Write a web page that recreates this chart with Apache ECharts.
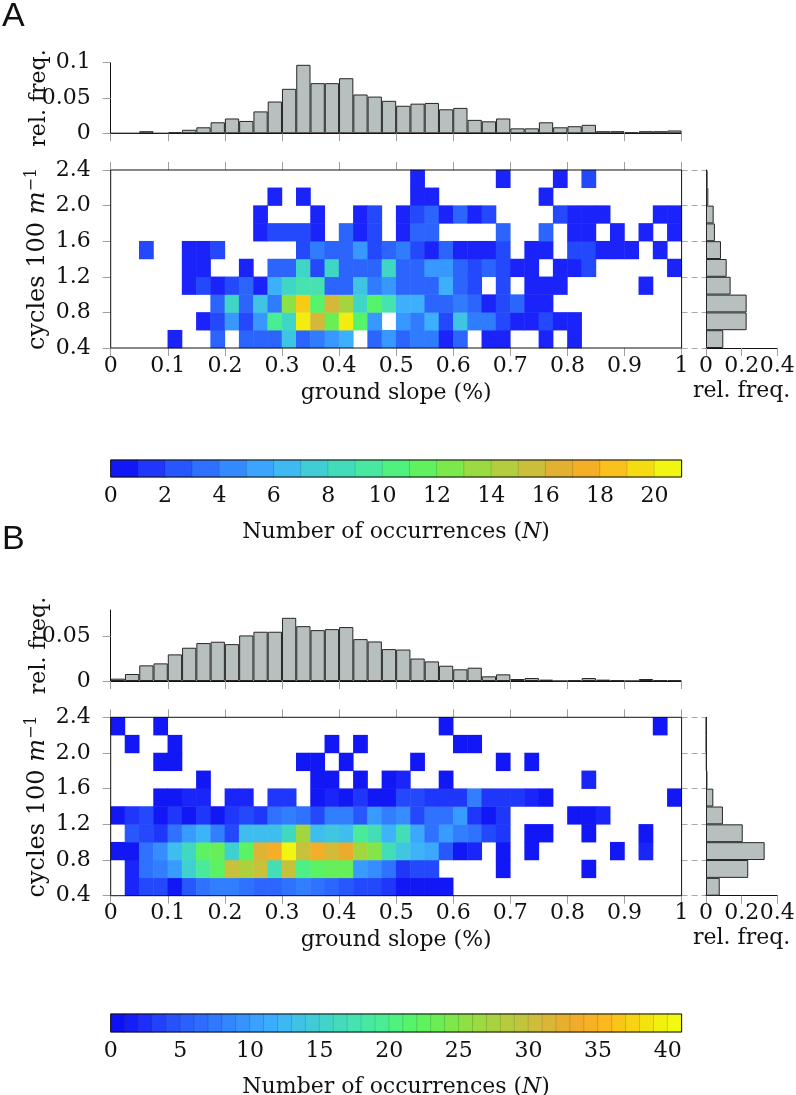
<!DOCTYPE html>
<html><head><meta charset="utf-8">
<script src="https://cdn.jsdelivr.net/npm/echarts@6/dist/echarts.min.js"></script>
<style>html,body{margin:0;padding:0;background:#fff}#c{width:796px;height:1095px}</style>
</head><body><div id="c"></div>
<script>
// ---------- categories ----------
const slopeBinStart = [0.000,0.025,0.050,0.075,0.100,0.125,0.150,0.175,0.200,0.225,0.250,0.275,0.300,0.325,0.350,0.375,0.400,0.425,0.450,0.475,0.500,0.525,0.550,0.575,0.600,0.625,0.650,0.675,0.700,0.725,0.750,0.775,0.800,0.825,0.850,0.875,0.900,0.925,0.950,0.975];
const waveBinStart = [0.4,0.6,0.8,1.0,1.2,1.4,1.6,1.8,2.0,2.2];
// ---------- tick labels ----------
const slopeTicks = [0,0.1,0.2,0.3,0.4,0.5,0.6,0.7,0.8,0.9,1];
const waveTicks = [0.4,0.8,1.2,1.6,2.0,2.4];
const relTicksA = [0,0.05,0.1];
const relTicksB = [0,0.05];
const rhTicks = [0,0.2,0.4];
const cbTicksA = [0,2,4,6,8,10,12,14,16,18,20];
const cbTicksB = [0,5,10,15,20,25,30,35,40];
const cbLevelsA = [0,1,2,3,4,5,6,7,8,9,10,11,12,13,14,15,16,17,18,19,20];
const cbLevelsB = [0,1,2,3,4,5,6,7,8,9,10,11,12,13,14,15,16,17,18,19,20,21,22,23,24,25,26,27,28,29,30,31,32,33,34,35,36,37,38,39,40];

// ---------- panel A values ----------
const histA = [0,0,0.003,0,0.0014,0.005,0.0085,0.0156,0.021,0.0175,0.031,0.045,0.063,0.097,0.071,0.071,0.078,0.055,0.052,0.046,0.039,0.042,0.043,0.034,0.036,0.019,0.017,0.021,0.007,0.007,0.0156,0.0085,0.010,0.012,0.003,0.003,0.0014,0.003,0.003,0.004];
const rowHistA = [0.097,0.228,0.228,0.138,0.116,0.084,0.05,0.043,0.013,0.009];
// counts, rows from 0.4-0.6 (first) up to 2.2-2.4 (last), 40 slope bins each
const countsA = [
 [0,0,0,0,1,0,0,3,0,3, 3,3,7,3,4,5,6,0,3,5, 3,4,4,1,3,0,1,1,0,0, 1,0,1,0,0,0,0,0,0,0],
 [0,0,0,0,0,0,1,2,5,2, 5,10,8,20,16,12,20,11,5,0, 5,4,6,2,7,4,4,2,1,1, 2,1,1,0,0,0,0,0,0,0],
 [0,0,0,0,0,0,0,3,8,3, 7,4,13,19,11,16,14,8,11,9, 6,6,3,3,4,3,1,2,3,1, 1,0,0,0,0,0,0,0,0,0],
 [0,0,0,0,0,1,2,1,2,3, 1,6,8,9,9,3,3,7,4,5, 3,3,3,6,3,2,0,2,0,1, 1,1,0,0,0,0,0,1,0,0],
 [0,0,0,0,0,1,1,0,0,1, 0,3,3,8,2,8,3,3,3,8, 3,3,5,5,3,2,3,2,1,1, 0,1,1,2,0,0,0,0,0,1],
 [0,0,2,0,0,1,1,2,0,0, 0,0,0,2,4,3,3,5,2,3, 4,2,1,3,1,1,1,2,0,1, 1,0,2,2,1,1,1,0,1,0],
 [0,0,0,0,0,0,0,0,0,0, 1,2,2,2,1,0,3,1,2,0, 1,3,3,0,0,0,0,3,0,0, 3,0,1,1,0,1,0,1,0,1],
 [0,0,0,0,0,0,0,0,0,0, 1,0,0,0,1,0,0,1,2,0, 1,2,3,1,3,1,2,0,0,0, 0,2,1,1,1,0,0,0,1,1],
 [0,0,0,0,0,0,0,0,0,0, 0,1,0,1,0,0,0,0,0,0, 0,1,1,0,0,0,0,0,0,0, 1,0,0,0,0,0,0,0,0,0],
 [0,0,0,0,0,0,0,0,0,0, 0,0,0,0,0,0,0,0,0,0, 0,1,0,0,0,0,0,1,0,0, 0,1,0,2,0,0,0,0,0,0]
];

// ---------- panel B values ----------
const histB = [0.0026,0.0078,0.0174,0.0196,0.0296,0.037,0.0422,0.0437,0.041,0.0507,0.0548,0.0548,0.0703,0.061,0.0566,0.0577,0.06,0.0466,0.044,0.0355,0.035,0.025,0.0218,0.017,0.013,0.0148,0.0052,0.0074,0.0022,0.0033,0.0015,0,0.0007,0.0033,0.0015,0.0007,0,0.0022,0.0007,0.0007];
const rowHistB = [0.077,0.237,0.329,0.206,0.095,0.041,0.008,0.004,0.002,0.002];
const countsB = [
 [0,2,4,4,1,5,7,8,8,7, 6,6,7,8,7,6,5,4,4,3, 1,1,1,1,0,0,0,0,0,0, 0,0,0,0,0,0,0,0,0,0],
 [0,2,7,8,10,15,19,22,30,28, 30,17,30,20,22,23,23,10,9,7, 3,4,4,0,0,0,0,1,0,0, 0,0,0,1,0,0,0,0,0,0],
 [1,1,7,9,13,16,22,23,15,22, 32,34,40,30,34,31,33,27,25,17, 14,12,11,5,1,2,0,1,0,1, 0,0,0,0,0,1,0,2,0,0],
 [0,5,4,3,7,10,12,8,4,13, 13,13,16,27,13,14,13,19,17,12, 17,11,7,10,8,7,4,3,0,1, 1,0,0,1,0,0,0,1,0,0],
 [1,3,4,1,3,1,3,1,3,4, 3,7,8,7,4,8,8,5,10,8, 9,4,7,7,10,3,1,3,0,0, 0,0,1,1,2,0,0,0,0,0],
 [0,0,0,1,1,2,2,0,2,2, 0,3,3,0,1,2,1,3,1,1, 4,4,3,3,3,8,3,3,3,2, 1,0,0,0,0,0,0,0,0,1],
 [0,0,0,0,0,0,1,0,0,0, 0,0,0,0,1,1,0,1,0,1, 2,0,0,1,0,0,0,0,0,0, 0,0,0,2,0,0,0,0,0,0],
 [0,0,0,1,1,0,0,0,0,0, 0,0,0,1,1,0,1,0,0,0, 0,1,0,0,0,0,0,1,0,1, 0,0,0,0,0,0,0,0,0,0],
 [0,1,0,0,1,0,0,0,0,0, 0,0,0,0,0,1,0,1,0,0, 0,0,0,0,1,1,0,0,0,0, 0,0,0,0,0,0,0,0,0,0],
 [1,0,0,1,0,0,0,0,0,0, 0,0,0,0,0,0,0,0,0,0, 0,0,0,1,0,0,0,0,0,0, 0,0,0,0,0,0,0,0,1,0]
];

// ---------- styles ----------
const cmap = ['#0a0af0','#1a24fa','#2448fc','#2c64fe','#307cff','#3898ff','#3cb0fc','#40c4e4','#40d6c6','#46e2b0','#4aee92','#56f46a','#6aee54','#8ce244','#a6d43e','#bec63e','#d6b838','#eeaa2c','#fcb422','#f8cc14','#f2ec10','#f0ff10'];
const SERIF = 'DejaVu Serif';
const FS = 22;
const lab = {fontFamily: SERIF, fontSize: FS, color: '#111'};
const tickOut = (vals) => ({show: true, inside: false, length: 8, customValues: vals, lineStyle: {color: '#a0a0a0', width: 1}});
const blackLine = {show: true, onZero: false, lineStyle: {color: '#111', width: 1}};
const X0 = 110.7, XW = 570.9, RH0 = 706, RHW = 71.3;
const barStyle = {color: '#b7bfbf', borderColor: '#262626', borderWidth: 1};

const panels = [
  {letter: 'A', letterTop: 0, histTop: 62.7, histH: 70.6, histMax: 0.1, relTicks: relTicksA,
   heatTop: 170, heatH: 178, cbTop: 460, cbH: 17, cbMax: 21, cbTicks: cbTicksA, cbLevels: cbLevelsA,
   hist: histA, rows: rowHistA, counts: countsA},
  {letter: 'B', letterTop: 523, histTop: 610, histH: 71, histMax: 0.079, relTicks: relTicksB,
   heatTop: 717.3, heatH: 178.4, cbTop: 1014, cbH: 18, cbMax: 41, cbTicks: cbTicksB, cbLevels: cbLevelsB,
   hist: histB, rows: rowHistB, counts: countsB}
];

const grid = [], xAxis = [], yAxis = [], series = [], visualMap = [], graphic = [];

panels.forEach(p => {
  const gi = grid.length, xi = xAxis.length, yi = yAxis.length, si = series.length;
  grid.push(
    {left: X0, top: p.histTop, width: XW, height: p.histH, outerBoundsMode: 'none'},
    {left: X0, top: p.heatTop, width: XW, height: p.heatH, show: true, z: 10, borderColor: '#111', borderWidth: 1, backgroundColor: 'rgba(0,0,0,0)', outerBoundsMode: 'none'},
    {left: RH0, top: p.heatTop, width: RHW, height: p.heatH, outerBoundsMode: 'none'},
    {left: X0 + XW, top: p.heatTop, width: RH0 - X0 - XW, height: p.heatH, outerBoundsMode: 'none'},
    {left: X0, top: p.cbTop, width: XW, height: p.cbH, show: true, z: 10, borderColor: '#111', borderWidth: 1, backgroundColor: 'rgba(0,0,0,0)', outerBoundsMode: 'none'}
  );
  xAxis.push(
    {gridIndex: gi, type: 'category', data: slopeBinStart, show: false},
    {gridIndex: gi, type: 'value', min: 0, max: 1, position: 'bottom', axisLine: blackLine, axisTick: tickOut(slopeTicks), axisLabel: {show: false}, splitLine: {show: false}},
    {gridIndex: gi + 1, type: 'category', data: slopeBinStart, show: false},
    {gridIndex: gi + 1, type: 'value', min: 0, max: 1, position: 'bottom', axisLine: {show: false}, axisTick: tickOut(slopeTicks),
     axisLabel: Object.assign({customValues: slopeTicks, margin: 7}, lab), splitLine: {show: false},
     name: 'ground slope (%)', nameLocation: 'middle', nameGap: 34, nameMoveOverlap: false, nameTextStyle: lab},
    {gridIndex: gi + 1, type: 'value', min: 0, max: 1, position: 'top', axisLine: {show: false}, axisTick: tickOut(slopeTicks), axisLabel: {show: false}, splitLine: {show: false}},
    {gridIndex: gi + 2, type: 'value', min: 0, max: 0.4, position: 'bottom', axisLine: blackLine, axisTick: tickOut(rhTicks),
     axisLabel: Object.assign({customValues: rhTicks, margin: 7}, lab), splitLine: {show: false},
     name: 'rel. freq.', nameLocation: 'middle', nameGap: 32, nameMoveOverlap: false, nameTextStyle: lab},
    {gridIndex: gi + 3, type: 'value', min: 0, max: 1, show: false},
    {gridIndex: gi + 4, type: 'category', data: p.cbLevels, show: false},
    {gridIndex: gi + 4, type: 'value', min: 0, max: p.cbMax, position: 'bottom', axisLine: {show: false}, axisTick: {show: false},
     axisLabel: Object.assign({customValues: p.cbTicks, margin: 8}, lab), splitLine: {show: false},
     name: '{a|Number of occurrences (}{i|N}{a|)}', nameLocation: 'middle', nameGap: 44, nameMoveOverlap: false,
     nameTextStyle: {rich: {a: {fontFamily: SERIF, fontSize: FS, color: '#111'}, i: {fontFamily: SERIF, fontSize: FS, fontStyle: 'italic', color: '#111'}}}}
  );
  yAxis.push(
    {gridIndex: gi, type: 'value', min: 0, max: p.histMax, position: 'left', axisLine: blackLine, axisTick: tickOut(p.relTicks),
     axisLabel: Object.assign({customValues: p.relTicks, margin: 20}, lab), splitLine: {show: false},
     name: 'rel. freq.', nameLocation: 'middle', nameRotate: 90, nameGap: 60, nameMoveOverlap: false, nameTextStyle: lab},
    {gridIndex: gi + 1, type: 'category', data: waveBinStart, show: false},
    {gridIndex: gi + 1, type: 'value', min: 0.4, max: 2.4, position: 'left', axisLine: {show: false}, axisTick: tickOut(waveTicks),
     axisLabel: Object.assign({customValues: waveTicks, margin: 20, formatter: v => v.toFixed(1)}, lab), splitLine: {show: false},
     name: '{a|cycles 100 }{i|m}{s|−1}', nameLocation: 'middle', nameRotate: 90, nameGap: 59, nameMoveOverlap: false,
     nameTextStyle: {rich: {
       a: {fontFamily: SERIF, fontSize: 24, color: '#111', lineHeight: 28},
       i: {fontFamily: SERIF, fontSize: 24, fontStyle: 'italic', color: '#111', lineHeight: 28},
       s: {fontFamily: SERIF, fontSize: 16, color: '#111', verticalAlign: 'top', lineHeight: 28}}}},
    {gridIndex: gi + 2, type: 'category', data: waveBinStart, position: 'left', axisLine: blackLine, axisTick: {show: false}, axisLabel: {show: false}},
    {gridIndex: gi + 3, type: 'value', min: 0.4, max: 2.4, interval: 0.4, axisLine: {show: false}, axisTick: {show: false}, axisLabel: {show: false},
     splitLine: {show: true, lineStyle: {color: '#a8a8a8', type: [6, 4], width: 1}}},
    {gridIndex: gi + 4, type: 'category', data: ['N'], show: false}
  );
  const cells = [];
  p.counts.forEach((row, r) => row.forEach((v, c) => { if (v > 0) cells.push([c, r, v]); }));
  series.push(
    {type: 'bar', xAxisIndex: xi, yAxisIndex: yi, data: p.hist, barCategoryGap: '0%', itemStyle: barStyle, silent: true},
    {type: 'heatmap', xAxisIndex: xi + 2, yAxisIndex: yi + 1, data: cells, silent: true, emphasis: {disabled: true}},
    {type: 'bar', xAxisIndex: xi + 5, yAxisIndex: yi + 3, data: p.rows, barCategoryGap: '0%', itemStyle: barStyle, silent: true},
    {type: 'heatmap', xAxisIndex: xi + 7, yAxisIndex: yi + 5, data: p.cbLevels.map((l, i) => [i, 0, l + 0.5]), silent: true,
     itemStyle: {borderColor: 'rgba(0,0,0,0.13)', borderWidth: 1}, emphasis: {disabled: true}}
  );
  visualMap.push({type: 'continuous', show: false, min: 0, max: p.cbMax, dimension: 2, seriesIndex: [si + 1, si + 3], inRange: {color: cmap}});
  graphic.push({type: 'text', left: 2, top: p.letterTop, style: {text: p.letter, fontFamily: 'Liberation Sans', fontSize: 34, fill: '#111'}});
});

const chart = echarts.init(document.getElementById('c'));
chart.setOption({animation: false, backgroundColor: '#fff', textStyle: {fontFamily: SERIF},
  grid, xAxis, yAxis, series, visualMap, graphic});
</script></body></html>
